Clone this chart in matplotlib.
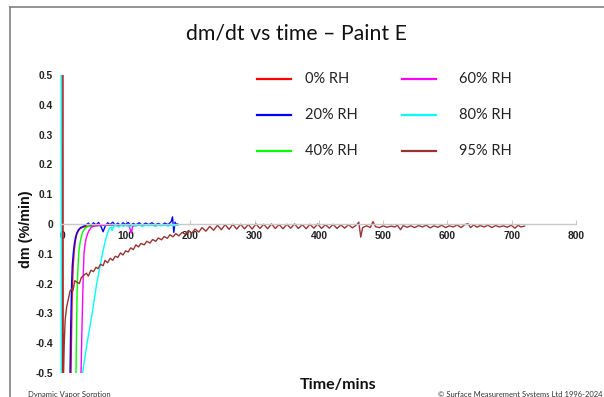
import numpy as np
import matplotlib
matplotlib.use("Agg")
import matplotlib.pyplot as plt
from matplotlib.lines import Line2D

# dm/dt (%/min) against time (min)
# each series: (time, dm/dt); the first two points of some are the start-up spike
rh0 = [(0, 0.9), (0.6, -0.9), (14, -0.5), (15, -0.35), (16, -0.22), (17.5, -0.14),
       (19, -0.09), (21, -0.055), (23, -0.035), (25, -0.025), (28, -0.016),
       (32, -0.011), (38, -0.008), (45, -0.006), (55, -0.005), (70, -0.004),
       (90, -0.004), (110, -0.003), (130, -0.003), (150, -0.003), (170, -0.002),
       (180, -0.002)]
rh20 = [(12.5, -0.5), (13.5, -0.35), (15, -0.2), (16, -0.14), (17.5, -0.1),
        (19, -0.07), (21, -0.045), (23, -0.03), (26, -0.018), (29, -0.012),
        (33, -0.008), (37, -0.004), (41, 0.003), (45, -0.006), (49, 0.004),
        (53, -0.003), (57, 0.005), (61, -0.01), (64, -0.026), (67, -0.008),
        (71, 0.004), (75, -0.002), (79, 0.006), (83, -0.004), (87, 0.003),
        (91, -0.005), (95, 0.004), (99, -0.002), (103, 0.005), (107, -0.004),
        (111, 0.002), (115, -0.003), (120, 0.004), (125, -0.004), (130, 0.003),
        (135, -0.002), (140, 0.004), (145, -0.003), (150, 0.002), (155, -0.004),
        (160, 0.003), (165, -0.002), (170, 0.008), (172, 0.024), (174, -0.028),
        (176, 0.006), (178, -0.002), (180, 0.0)]
rh40 = [(21.8, -0.5), (22.8, -0.32), (23.8, -0.2), (25, -0.14), (26, -0.1),
        (28, -0.065), (30, -0.042), (32, -0.028), (35, -0.017), (38, -0.011),
        (42, -0.008), (50, -0.006), (60, -0.005), (75, -0.004), (90, -0.004),
        (110, -0.003), (130, -0.004), (150, -0.003), (170, -0.003), (180, -0.003)]
rh60 = [(29.6, -0.5), (31.6, -0.3), (33, -0.18), (34.2, -0.1), (36, -0.065),
        (38, -0.045), (40, -0.032), (42, -0.022), (45, -0.013), (48, -0.008),
        (55, -0.005), (65, -0.004), (80, -0.003), (95, -0.004), (104, -0.006),
        (107, -0.022), (108, -0.03), (110, -0.008), (115, -0.004), (130, -0.003),
        (150, -0.003), (165, -0.004), (175, -0.002), (180, -0.003)]
rh80 = [(-1.5, 0.9), (-1.0, -0.9), (32, -0.5), (35.5, -0.45), (39, -0.4),
        (43, -0.35), (47, -0.3), (50.5, -0.25), (54, -0.2), (58.5, -0.15),
        (63, -0.1), (66, -0.07), (68.5, -0.047), (71, -0.03), (73, -0.018),
        (75, -0.012), (77, -0.01), (78, -0.022), (80, -0.008), (84, -0.005),
        (88, -0.01), (92, -0.004), (96, -0.008), (100, -0.003), (105, -0.009),
        (110, -0.004), (115, -0.007), (120, -0.003), (125, -0.008), (130, -0.004),
        (135, -0.006), (140, -0.003), (145, -0.008), (150, -0.004), (155, -0.006),
        (160, -0.003), (165, -0.007), (170, -0.004), (175, -0.006), (180, -0.004)]
rh95 = [(1.5, 0.9), (2.0, -0.9), (2.5, -0.5), (3.5, -0.4), (5, -0.32),
        (7.3, -0.278), (10, -0.25), (12.5, -0.225), (15, -0.218), (17, -0.225),
        (20, -0.19), (23, -0.195), (27, -0.2), (30, -0.18), (34, -0.172),
        (38, -0.165), (41, -0.175), (45, -0.155), (49, -0.16), (53, -0.145),
        (56, -0.15), (60, -0.135), (64, -0.14), (67, -0.122), (71, -0.13),
        (75, -0.115), (79, -0.122), (83, -0.108), (87, -0.112), (91, -0.097),
        (95, -0.104), (99, -0.09), (103, -0.094), (107, -0.08), (111, -0.086),
        (115, -0.07), (119, -0.077), (123, -0.065), (128, -0.07), (132, -0.058),
        (137, -0.064), (141, -0.052), (146, -0.058), (150, -0.047), (155, -0.053),
        (159, -0.042), (164, -0.048), (168, -0.036), (173, -0.043), (177, -0.032),
        (182, -0.04), (187, -0.028), (192, -0.035), (197, -0.022), (202, -0.031),
        (207, -0.017), (213, -0.027), (218, -0.012), (224, -0.024), (230, -0.008),
        (236, -0.021), (242, -0.004), (248, -0.019), (254, -0.002), (260, -0.018),
        (266, -0.001), (272, -0.017), (278, -0.001), (284, -0.016), (290, -0.002),
        (296, -0.017), (302, 0.0), (308, -0.015), (314, -0.001), (320, -0.016),
        (326, 0.0), (332, -0.015), (338, -0.002), (344, -0.016), (350, -0.001),
        (356, -0.014), (362, 0.0), (368, -0.015), (374, -0.002), (380, -0.016),
        (386, -0.001), (392, -0.014), (398, 0.0), (404, -0.015), (410, -0.002),
        (416, -0.014), (422, -0.001), (428, -0.015), (434, -0.003), (440, -0.014),
        (446, -0.002), (452, -0.013), (458, -0.004), (462, 0.006), (465, -0.044),
        (468, -0.012), (474, -0.006), (480, -0.012), (484, 0.008), (488, -0.009),
        (494, -0.012), (500, -0.006), (506, -0.011), (512, -0.007), (518, -0.01),
        (522, -0.004), (527, -0.019), (531, -0.005), (537, -0.011), (543, -0.006),
        (549, -0.012), (555, -0.005), (561, -0.01), (567, -0.004), (573, -0.013),
        (579, -0.006), (585, -0.011), (591, -0.004), (597, -0.012), (603, -0.006),
        (609, -0.01), (615, -0.003), (621, -0.012), (627, -0.002), (632, 0.001),
        (636, -0.012), (641, -0.003), (646, -0.011), (651, -0.005), (657, -0.01),
        (663, -0.004), (669, -0.012), (675, -0.005), (681, -0.01), (687, -0.006),
        (693, -0.011), (699, -0.004), (705, -0.014), (710, -0.004), (714, -0.01),
        (720, -0.007)]

labels = ["0% RH", "20% RH", "40% RH", "60% RH", "80% RH", "95% RH"]
colors = ["#ff0000", "#0000ff", "#00ff00", "#ff00ff", "#00ffff", "#993333"]
series = [rh0, rh20, rh40, rh60, rh80, rh95]

xticks = [0, 100, 200, 300, 400, 500, 600, 700, 800]
yticks = [-0.5, -0.4, -0.3, -0.2, -0.1, 0, 0.1, 0.2, 0.3, 0.4, 0.5]
ytick_labels = ["-0.5", "-0.4", "-0.3", "-0.2", "-0.1", "0", "0.1", "0.2", "0.3", "0.4", "0.5"]

W, H = 604, 397
fig = plt.figure(figsize=(W / 100, H / 100), dpi=100)
ax = fig.add_axes([60.07 / W, 24 / H, 515.9 / W, 298 / H])

for data, c in zip(series, colors):
    arr = np.array(data)
    ax.plot(arr[:, 0], arr[:, 1], color=c, lw=1.0)

ax.set_xlim(-3, 800)
ax.set_ylim(-0.5, 0.5)

for s in ["top", "right", "left"]:
    ax.spines[s].set_visible(False)
ax.spines["bottom"].set_position(("data", 0))
ax.spines["bottom"].set_color("#c8c8c8")
ax.spines["bottom"].set_linewidth(1.0)

tick_font = dict(family="Liberation Sans", weight="bold", size=7.4)
ax.set_xticks(xticks)
ax.set_xticklabels([str(x) for x in xticks], **tick_font)
ax.set_yticks(yticks)
ax.set_yticklabels(ytick_labels, **tick_font)
ax.tick_params(axis="x", direction="in", length=3, color="#c8c8c8", pad=5, labelcolor="#222222")
ax.tick_params(axis="y", length=0, pad=5, labelcolor="#222222")

# y label drawn over the tick labels like the original
fig.text(26 / W, 1 - 229.5 / H, "dm (%/min)", rotation=90, ha="center", va="center",
         family="Liberation Sans", weight="bold", size=10.4, color="#111111",
         bbox=dict(facecolor="white", edgecolor="none", pad=3.5), zorder=5)

fig.text(296 / W, 1 - 33 / H, "dm/dt vs time \u2013 Paint E", ha="center", va="center",
         family="Lato", size=15.3, color="#111111")
fig.text(338 / W, 1 - 385 / H, "Time/mins", ha="center", va="center",
         family="Lato", weight="bold", size=11.5, color="#111111")
fig.text(28 / W, 1 - 394 / H, "Dynamic Vapor Sorption", ha="left", va="center",
         family="Lato", size=5.5, color="#333333")
fig.text(603 / W, 1 - 394 / H, "\u00a9 Surface Measurement Systems Ltd 1996-2024", ha="right",
         va="center", family="Lato", size=5.5, color="#333333")

# legend in two columns, no frame
for i, (lab, c) in enumerate(zip(labels, colors)):
    col, row = divmod(i, 3)
    y = 1 - (79 + 36 * row) / H
    x0 = 257 + 145 * col
    fig.add_artist(Line2D([x0 / W, (x0 + 34) / W], [y, y], color=c, lw=1.6,
                          transform=fig.transFigure))
    fig.text((x0 + 48 + 9 * col) / W, y, lab, ha="left", va="center",
             family="Lato", size=10.5, color="#222222")

# outer frame of the pasted picture (left and top edges)
fig.add_artist(Line2D([10 / W, 10 / W], [0, 1 - 7 / H], color="#808080", lw=1.2,
                      transform=fig.transFigure))
fig.add_artist(Line2D([10 / W, 1], [1 - 7 / H, 1 - 7 / H], color="#808080", lw=1.2,
                      transform=fig.transFigure))

fig.savefig("out.png", dpi=100)
